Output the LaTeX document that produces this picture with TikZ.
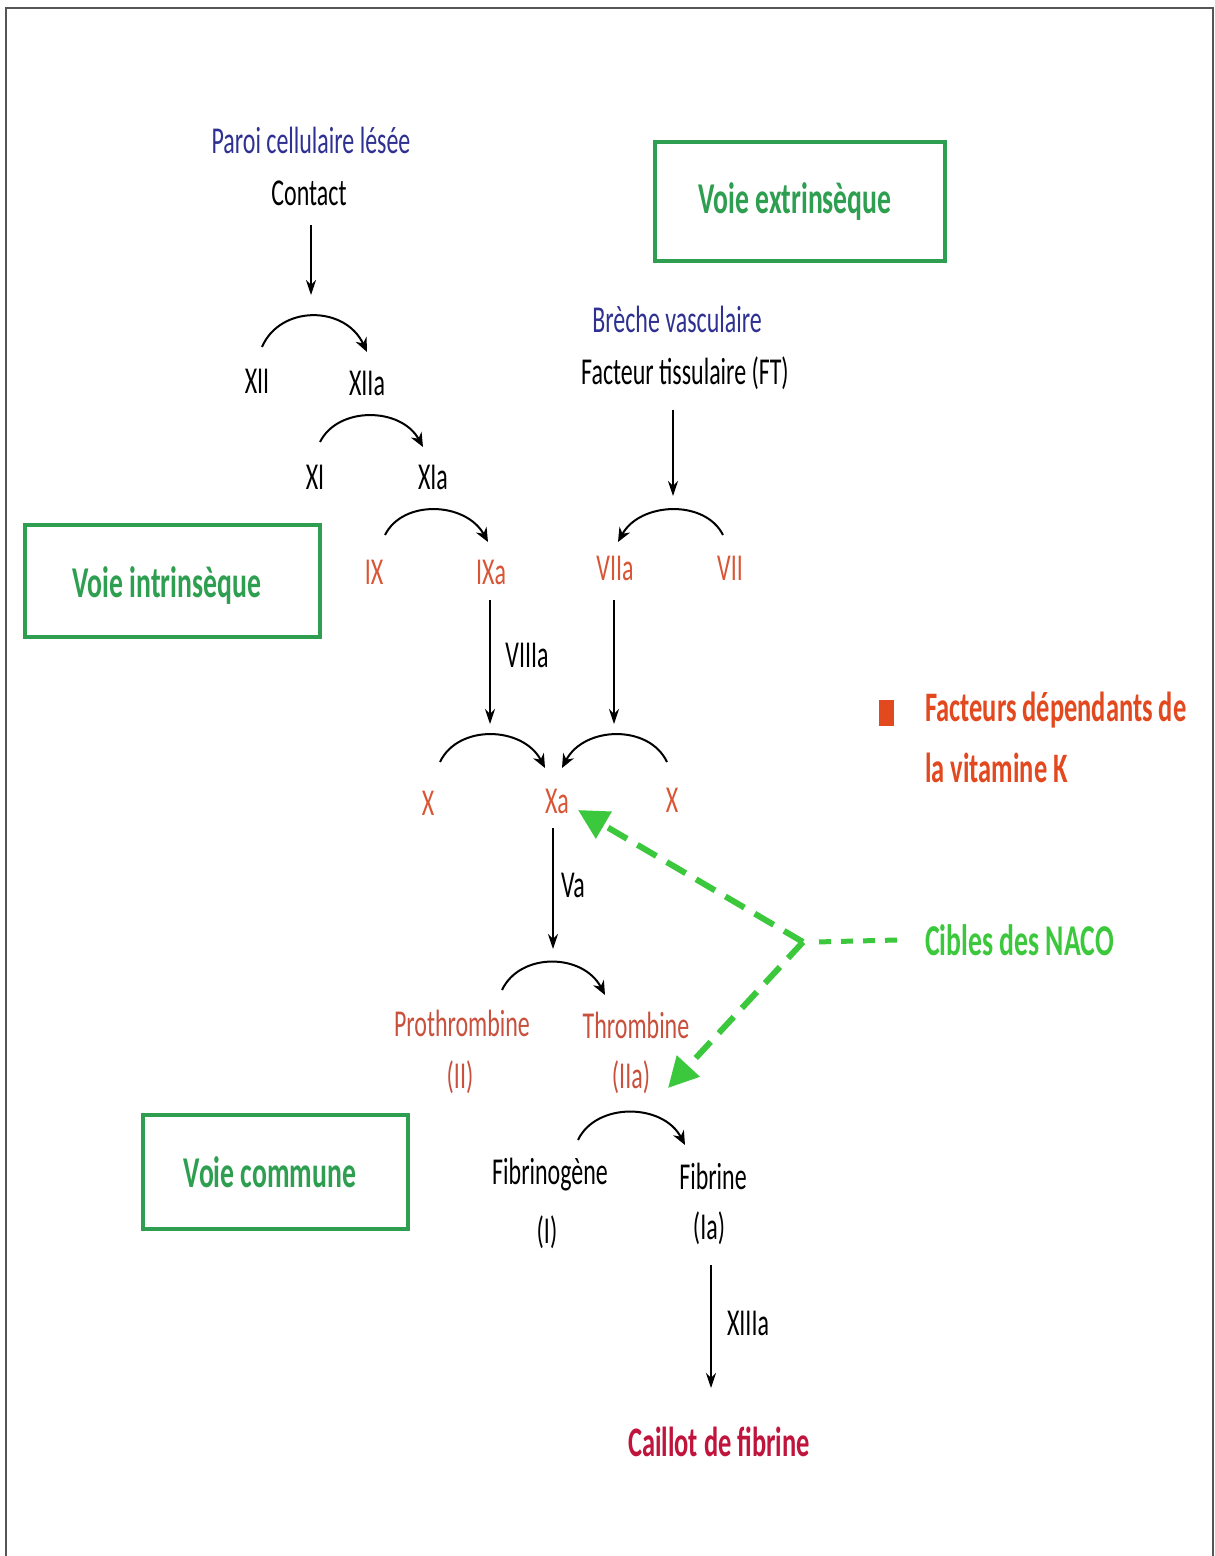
\documentclass[tikz,border=0pt]{standalone}
\usepackage{fontspec}
\setmainfont{Carlito}[FakeStretch=0.63]
\usetikzlibrary{arrows.meta}
\definecolor{navy}{HTML}{2E3191}
\definecolor{fac}{HTML}{DA5535}
\definecolor{facdark}{HTML}{C9503C}
\definecolor{boxgreen}{HTML}{2E9E50}
\definecolor{naco}{HTML}{3CC83C}
\definecolor{legred}{HTML}{E2491F}
\definecolor{caillot}{HTML}{C0143C}
\definecolor{framegray}{HTML}{555555}
\begin{document}
\begin{tikzpicture}[x=1pt,y=-1pt,
  lbl/.style={font=\fontsize{38}{44}\selectfont, inner sep=0pt, text=black},
  navylbl/.style={lbl, text=navy},
  faclbl/.style={lbl, text=fac},
  facdk/.style={lbl, text=facdark},
  boldlbl/.style={font=\fontsize{44}{50}\selectfont\bfseries, inner sep=0pt},
  legendlbl/.style={font=\fontsize{42}{48}\selectfont\bfseries, inner sep=0pt},
  pathbox/.style={draw=boxgreen, line width=4pt},
  conv/.style={line width=2pt, -{Stealth[length=14pt,width=12pt]}},
  vert/.style={line width=1.4pt, -{Stealth[length=15pt,width=10pt]}},
  nacoline/.style={draw=naco, line width=6pt, dash pattern=on 22pt off 12pt, -{Triangle[length=30pt,width=30pt]}},
  nacoh/.style={draw=naco, line width=5pt, dash pattern=on 12pt off 10pt},
]
\useasboundingbox (0,0) rectangle (1215,1556);
\fill[white] (0,0) rectangle (1215,1556);
\draw[framegray, line width=2.5pt] (6,1560) -- (6,8) -- (1213,8) -- (1213,1560);

% green boxes
\draw[pathbox] (655,142) rectangle (945,261);
\node[boldlbl, text=boxgreen] (vext) at (795,202) {Voie extrinsèque};
\draw[pathbox] (25,525) rectangle (320,637);
\node[boldlbl, text=boxgreen] (vint) at (167,586) {Voie intrinsèque};
\draw[pathbox] (143,1115) rectangle (408,1229);
\node[boldlbl, text=boxgreen] (vcom) at (270,1172) {Voie commune};

% intrinsic
\node[navylbl] (paroi) at (311,140) {Paroi cellulaire lésée};
\node[lbl] (contact) at (309,193) {Contact};
\node[lbl] (XII) at (257,381) {XII};
\node[lbl] (XIIa) at (367,383) {XIIa};
\node[lbl] (XI) at (315,477) {XI};
\node[lbl] (XIa) at (433,477) {XIa};
\node[faclbl] (IX) at (374,572) {IX};
\node[faclbl] (IXa) at (491,572) {IXa};
\node[lbl] (VIIIa) at (527,655) {VIIIa};

% extrinsic
\node[navylbl] (breche) at (677,319) {Brèche vasculaire};
\node[lbl] (FT) at (685,373) {Facteur tissulaire (FT)};
\node[faclbl] (VIIa) at (615,568) {VIIa};
\node[faclbl] (VII) at (730,568) {VII};

% common
\node[faclbl] (Xl) at (428,803) {X};
\node[faclbl] (Xa) at (557,801) {Xa};
\node[faclbl] (Xr) at (672,800) {X};
\node[lbl] (Va) at (573,885) {Va};
\node[facdk] (proth) at (462,1023) {Prothrombine};
\node[facdk] (II) at (460,1077) {(II)};
\node[facdk] (thromb) at (636,1025) {Thrombine};
\node[facdk] (IIa) at (631,1077) {(IIa)};
\node[lbl] (fibrinog) at (550,1175) {Fibrinogène};
\node[lbl] (I) at (547,1232) {(I)};
\node[lbl] (fibrine) at (713,1176) {Fibrine};
\node[lbl] (Ia) at (709,1228) {(Ia)};
\node[lbl] (XIIIa) at (748,1323) {XIIIa};
\node[legendlbl, text=caillot] (caillot) at (719,1442) {Caillot de fibrine};

% legend
\node[fill=legred, minimum width=15pt, minimum height=26pt, inner sep=0pt] (sq) at (886,713) {};
\node[legendlbl, text=legred, anchor=west] (leg1) at (925,710) {Facteurs dépendants de};
\node[legendlbl, text=legred, anchor=west] (leg2) at (925,768) {la vitamine K};
\node[boldlbl, text=naco, anchor=west] (cibles) at (925,940) {Cibles des NACO};

% coordinates where vertical arrows end (arc tops)
\coordinate (pkContact) at (311,295);
\coordinate (pkFT) at (673,496);
\coordinate (pkL) at (490,724);
\coordinate (pkR) at (614,724);
\coordinate (pkVa) at (553,949);
\coordinate (vertex) at (803,942);

% vertical arrows
\draw[vert] ([shift={(2,32)}]contact.center) -- (pkContact);
\draw[vert] ([shift={(-12,37)}]FT.center) -- (pkFT);
\draw[vert] ([shift={(-1,28)}]IXa.center) -- (pkL);
\draw[vert] ([shift={(-1,32)}]VIIa.center) -- (pkR);
\draw[vert] ([shift={(-4,27)}]Xa.center) -- (pkVa);
\draw[vert] ([shift={(2,37)}]Ia.center) -- ([shift={(2,160)}]Ia.center);

% conversion arcs
\draw[conv] ([shift={(5,-34)}]XII.center) .. controls +(18,-42) and +(-22,-47) .. ([shift={(0,-31)}]XIIa.center);
\draw[conv] ([shift={(5,-35)}]XI.center) .. controls +(18,-36) and +(-22,-40) .. ([shift={(-10,-30)}]XIa.center);
\draw[conv] ([shift={(11,-37)}]IX.center) .. controls +(18,-36) and +(-22,-40) .. ([shift={(-3,-30)}]IXa.center);
\draw[conv] ([shift={(-7,-33)}]VII.center) .. controls +(-18,-36) and +(22,-40) .. ([shift={(3,-26)}]VIIa.center);
\draw[conv] ([shift={(12,-41)}]Xl.center) .. controls +(18,-38) and +(-22,-42) .. ([shift={(-12,-33)}]Xa.center);
\draw[conv] ([shift={(-5,-38)}]Xr.center) .. controls +(-18,-38) and +(22,-42) .. ([shift={(5,-33)}]Xa.center);
\draw[conv] ([shift={(40,-33)}]proth.center) .. controls +(18,-38) and +(-22,-42) .. ([shift={(-31,-30)}]thromb.center);
\draw[conv] ([shift={(28,-35)}]fibrinog.center) .. controls +(18,-38) and +(-22,-42) .. ([shift={(-28,-31)}]fibrine.center);

% NACO targets
\draw[nacoh] ([xshift=-28pt]cibles.west) -- ([xshift=12pt]vertex);
\draw[nacoline] (vertex) -- ([shift={(21,9)}]Xa.center);
\draw[nacoline] (vertex) -- ([shift={(37,11)}]IIa.center);
\end{tikzpicture}
\end{document}
